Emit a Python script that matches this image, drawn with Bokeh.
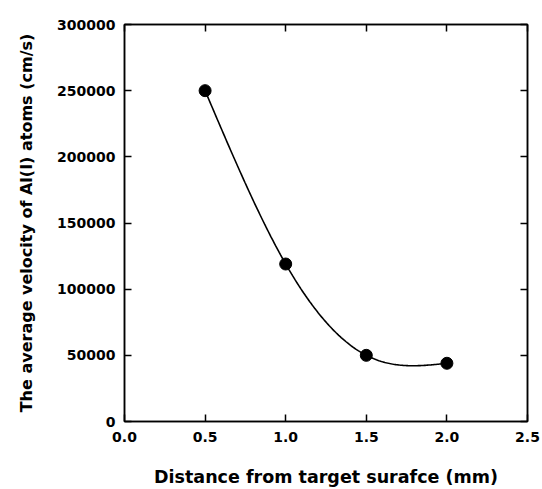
import numpy as np
from bokeh.plotting import figure
from bokeh.models import LinearAxis, FixedTicker, PrintfTickFormatter, Range1d
from bokeh.embed import file_html
from bokeh.resources import INLINE

# Data
distance_mm = [0.5, 1.0, 1.5, 2.0]
velocity_cm_s = [250000, 119000, 50000, 44000]
x_ticks = [0.0, 0.5, 1.0, 1.5, 2.0, 2.5]
y_ticks = [0, 50000, 100000, 150000, 200000, 250000, 300000]
x_label = "Distance from target surafce (mm)"
y_label = "The average velocity of Al(I) atoms (cm/s)"


def natural_cubic_spline(xs, ys, n=200):
    xs = np.asarray(xs, float)
    ys = np.asarray(ys, float)
    k = len(xs)
    h = np.diff(xs)
    A = np.zeros((k, k))
    b = np.zeros(k)
    A[0, 0] = 1
    A[-1, -1] = 1
    for i in range(1, k - 1):
        A[i, i - 1] = h[i - 1]
        A[i, i] = 2 * (h[i - 1] + h[i])
        A[i, i + 1] = h[i]
        b[i] = 6 * ((ys[i + 1] - ys[i]) / h[i] - (ys[i] - ys[i - 1]) / h[i - 1])
    M = np.linalg.solve(A, b)
    xx = np.linspace(xs[0], xs[-1], n)
    yy = np.empty_like(xx)
    for j, t in enumerate(xx):
        i = min(np.searchsorted(xs, t, side="right") - 1, k - 2)
        a = xs[i + 1] - t
        c = t - xs[i]
        yy[j] = (M[i] * a ** 3 / (6 * h[i]) + M[i + 1] * c ** 3 / (6 * h[i])
                 + (ys[i] / h[i] - M[i] * h[i] / 6) * a
                 + (ys[i + 1] / h[i] - M[i + 1] * h[i] / 6) * c)
    return xx, yy


FONT = "DejaVu Sans"

p = figure(width=542, height=489, output_backend="svg", toolbar_location=None,
           x_range=Range1d(0, 2.5), y_range=Range1d(0, 300000),
           min_border_left=124, min_border_right=15, min_border_top=24,
           min_border_bottom=68)
p.xgrid.visible = False
p.ygrid.visible = False
p.outline_line_color = "black"
p.outline_line_width = 1.5
p.background_fill_color = "white"
p.border_fill_color = "white"

sx, sy = natural_cubic_spline(distance_mm, velocity_cm_s)
p.line(sx, sy, line_color="black", line_width=1.6)
p.scatter(distance_mm, velocity_cm_s, size=12, fill_color="black", line_color="black")


def style(ax, ticks, fmt, show_labels=True):
    ax.ticker = FixedTicker(ticks=ticks)
    ax.formatter = PrintfTickFormatter(format=fmt)
    ax.minor_tick_line_color = None
    ax.major_tick_in = 7
    ax.major_tick_out = 0
    ax.major_tick_line_width = 1.5
    ax.major_tick_line_color = "black"
    ax.axis_line_width = 1.5
    ax.axis_line_color = "black"
    ax.major_label_text_font = FONT
    ax.major_label_text_font_style = "bold"
    ax.major_label_text_font_size = "14px"
    ax.major_label_text_color = "black"
    ax.axis_label_text_font = FONT
    ax.axis_label_text_font_style = "bold"
    ax.axis_label_text_color = "black"
    if not show_labels:
        ax.major_label_text_alpha = 0
        ax.major_label_text_font_size = "1px"
        ax.major_label_standoff = 0


style(p.xaxis[0], x_ticks, "%.1f")
style(p.yaxis[0], y_ticks, "%d")
p.xaxis[0].axis_label = x_label
p.yaxis[0].axis_label = y_label
p.xaxis[0].axis_label_text_font_size = "17.5px"
p.yaxis[0].axis_label_text_font_size = "16px"
p.xaxis[0].major_label_standoff = 10
p.yaxis[0].major_label_standoff = 9
p.xaxis[0].axis_label_standoff = 22
p.yaxis[0].axis_label_standoff = 18

top = LinearAxis()
style(top, x_ticks, "%.1f", show_labels=False)
p.add_layout(top, "above")
right = LinearAxis()
style(right, y_ticks, "%d", show_labels=False)
p.add_layout(right, "right")

open("out.html", "w").write(file_html(p, INLINE))
